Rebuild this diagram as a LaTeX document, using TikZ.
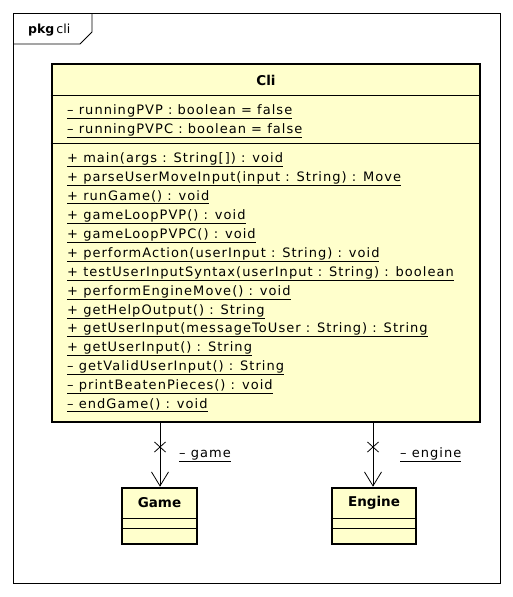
\documentclass[tikz,border=0pt]{standalone}
\usepackage{fontspec}
\setmainfont{DejaVu Sans}
\newfontfamily\memfont[LetterSpace=8]{DejaVu Sans}
\usetikzlibrary{arrows.meta,calc}
\definecolor{clsfill}{HTML}{FFFFCC}
\tikzset{
  cls/.style={draw=black,line width=2.6pt,fill=clsfill,rectangle,inner sep=0pt},
  sep/.style={line width=0.9pt},
  mem/.style={anchor=base west,inner sep=0pt,font=\memfont\fontsize{13}{15}\selectfont},
  ttl/.style={inner sep=0pt,font=\fontsize{13.5}{15}\selectfont\bfseries},
  assoc/.style={line width=0.8pt,-{Straight Barb[length=14pt,width=17pt,line width=0.8pt]}},
  crossmark/.style={line width=0.8pt},
  lbl/.style={anchor=base west,inner sep=0pt,font=\memfont\fontsize{13}{15}\selectfont},
}
\newcommand{\ul}[1]{\underline{#1}}
\begin{document}
\begin{tikzpicture}[x=1pt,y=-1pt]
\useasboundingbox[fill=white] (0,0) rectangle (513,597);
% package frame
\draw[line width=0.9pt] (13,13) rectangle (500,583);
\draw[line width=0.9pt] (13,44) -- (80,44) -- (92,32) -- (92,13);
\node[anchor=west,inner sep=0pt,font=\fontsize{12.5}{14}\selectfont] (pkg) at (28,30) {\textbf{pkg}\,cli};
% Cli class
\node[cls,minimum width=428pt,minimum height=358pt] (cli) at (266,243) {};
\draw[sep] (cli.west |- 0,95) -- (cli.east |- 0,95);
\draw[sep] (cli.west |- 0,143) -- (cli.east |- 0,143);
\node[ttl] (clititle) at (266,80) {Cli};
\node[mem] (a1) at (67,114) {\ul{– runningPVP : boolean = false}};
\node[mem] (a2) at (67,133) {\ul{– runningPVPC : boolean = false}};
\node[mem] (m1) at (67,162) {\ul{+ main(args : String[]) : void}};
\node[mem] (m2) at (67,181) {\ul{+ parseUserMoveInput(input : String) : Move}};
\node[mem] (m3) at (67,200) {\ul{+ runGame() : void}};
\node[mem] (m4) at (67,219) {\ul{+ gameLoopPVP() : void}};
\node[mem] (m5) at (67,238) {\ul{+ gameLoopPVPC() : void}};
\node[mem] (m6) at (67,257) {\ul{+ performAction(userInput : String) : void}};
\node[mem] (m7) at (67,276) {\ul{+ testUserInputSyntax(userInput : String) : boolean}};
\node[mem] (m8) at (67,295) {\ul{+ performEngineMove() : void}};
\node[mem] (m9) at (67,314) {\ul{+ getHelpOutput() : String}};
\node[mem] (m10) at (67,332) {\ul{+ getUserInput(messageToUser : String) : String}};
\node[mem] (m11) at (67,351) {\ul{+ getUserInput() : String}};
\node[mem] (m12) at (67,370) {\ul{– getValidUserInput() : String}};
\node[mem] (m13) at (67,389) {\ul{– printBeatenPieces() : void}};
\node[mem] (m14) at (67,408) {\ul{– endGame() : void}};
% Game class
\node[cls,minimum width=75pt,minimum height=56pt] (game) at (159.5,516) {};
\node[ttl] (gametitle) at (159.5,503) {Game};
\draw[sep] (game.west |- 0,518) -- (game.east |- 0,518);
\draw[sep] (game.west |- 0,528) -- (game.east |- 0,528);
% Engine class
\node[cls,minimum width=84pt,minimum height=56pt] (engine) at (374,516) {};
\node[ttl] (enginetitle) at (374,503) {Engine};
\draw[sep] (engine.west |- 0,518) -- (engine.east |- 0,518);
\draw[sep] (engine.west |- 0,528) -- (engine.east |- 0,528);
% associations
\coordinate (gs) at (160,422);
\coordinate (es) at (373,422);
\draw[assoc] (gs) -- (gs |- game.north);
\draw[assoc] (es) -- (es |- engine.north);
\coordinate (gx) at (160,447);
\coordinate (ex) at (373,447);
\draw[crossmark] ($(gx)+(-5.5,-5)$) -- ($(gx)+(5.5,5)$) ($(gx)+(-5.5,5)$) -- ($(gx)+(5.5,-5)$);
\draw[crossmark] ($(ex)+(-5.5,-5)$) -- ($(ex)+(5.5,5)$) ($(ex)+(-5.5,5)$) -- ($(ex)+(5.5,-5)$);
\node[lbl] (glbl) at (179,457) {\ul{– game}};
\node[lbl] (elbl) at (400,457) {\ul{– engine}};
\end{tikzpicture}
\end{document}
